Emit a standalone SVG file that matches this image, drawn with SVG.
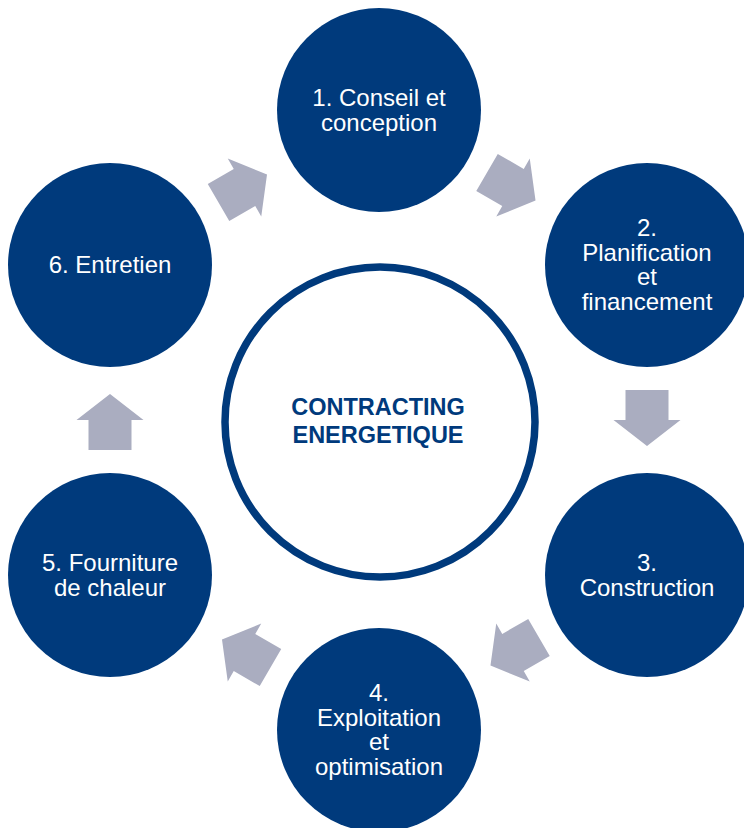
<svg xmlns="http://www.w3.org/2000/svg" width="744" height="828" viewBox="0 0 744 828">
<style>
.node{fill:#003A7C}
.lbl{fill:#FFFFFF;font-family:"Liberation Sans",Arial,sans-serif;font-size:24px;text-anchor:middle}
.ctr{fill:#003A7C;font-family:"Liberation Sans",Arial,sans-serif;font-size:23.5px;font-weight:bold;text-anchor:middle}
.arr{fill:#AAADC0}
</style>
<defs>
<polygon id="arrow" points="-30,-21.5 0,-21.5 0,-33.5 26,0 0,33.5 0,21.5 -30,21.5"/>
</defs>
<rect width="744" height="828" fill="#FFFFFF"/>
<g id="connectors">
<use href="#arrow" class="arr" transform="translate(513,187.5) rotate(30)"/>
<use href="#arrow" class="arr" transform="translate(647,420) rotate(90)"/>
<use href="#arrow" class="arr" transform="translate(513,652.5) rotate(150)"/>
<use href="#arrow" class="arr" transform="translate(244.5,652.5) rotate(210)"/>
<use href="#arrow" class="arr" transform="translate(110,420) rotate(-90)"/>
<use href="#arrow" class="arr" transform="translate(244.5,187.5) rotate(-30)"/>
</g>
<g id="center">
<circle cx="380" cy="422" r="155" fill="#FFFFFF" stroke="#003A7C" stroke-width="7.5"/>
<text class="ctr" x="378" y="415">CONTRACTING</text>
<text class="ctr" x="378" y="443">ENERGETIQUE</text>
</g>
<g id="node1">
<circle class="node" cx="379" cy="110" r="102"/>
<text class="lbl" x="379" y="106">1. Conseil et</text>
<text class="lbl" x="379" y="130.5">conception</text>
</g>
<g id="node2">
<circle class="node" cx="647" cy="265" r="102"/>
<text class="lbl" x="647" y="236">2.</text>
<text class="lbl" x="647" y="260.5">Planification</text>
<text class="lbl" x="647" y="285">et</text>
<text class="lbl" x="647" y="309.5">financement</text>
</g>
<g id="node3">
<circle class="node" cx="647" cy="575" r="102"/>
<text class="lbl" x="647" y="571">3.</text>
<text class="lbl" x="647" y="595.5">Construction</text>
</g>
<g id="node4">
<circle class="node" cx="379" cy="730" r="102"/>
<text class="lbl" x="379" y="701">4.</text>
<text class="lbl" x="379" y="725.5">Exploitation</text>
<text class="lbl" x="379" y="750">et</text>
<text class="lbl" x="379" y="774.5">optimisation</text>
</g>
<g id="node5">
<circle class="node" cx="110" cy="575" r="102"/>
<text class="lbl" x="110" y="571">5. Fourniture</text>
<text class="lbl" x="110" y="595.5">de chaleur</text>
</g>
<g id="node6">
<circle class="node" cx="110" cy="265" r="102"/>
<text class="lbl" x="110" y="273">6. Entretien</text>
</g>
</svg>
